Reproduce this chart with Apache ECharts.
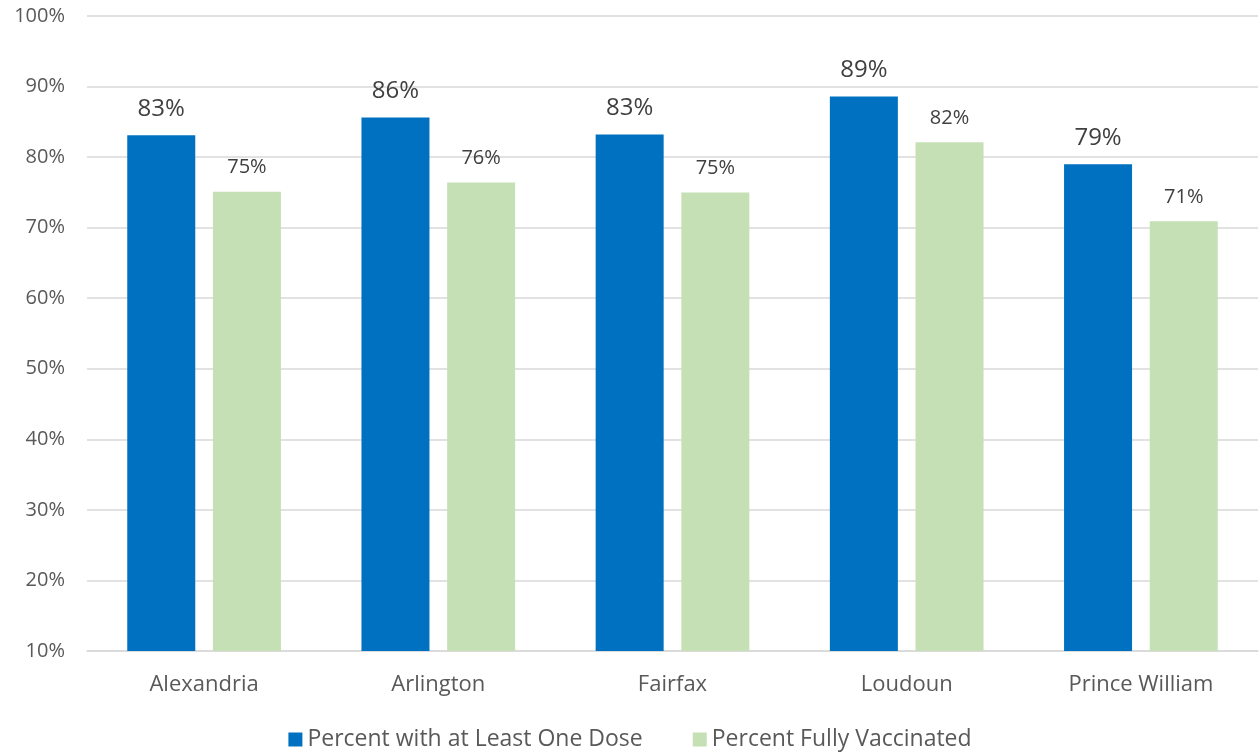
<!DOCTYPE html>
<html>
<head>
<meta charset="utf-8">
<script src="https://cdn.jsdelivr.net/npm/echarts@6/dist/echarts.min.js"></script>
<style>html,body{margin:0;padding:0;background:#fff}#c{width:1260px;height:756px}</style>
</head>
<body>
<div id="c"></div>
<script>
const categories = ['Alexandria', 'Arlington', 'Fairfax', 'Loudoun', 'Prince William'];
const oneDose = [83.1, 85.6, 83.2, 88.6, 79.0];
const fullyVaccinated = [75.1, 76.4, 75.0, 82.1, 70.9];
const seriesNames = ['Percent with at Least One Dose', 'Percent Fully Vaccinated'];

const font = '"Open Sans", "Liberation Sans", sans-serif';
const chart = echarts.init(document.getElementById('c'));
chart.setOption({
  animation: false,
  textStyle: { fontFamily: font },
  grid: { left: 87, right: 2, top: 16, bottom: 105 },
  legend: {
    bottom: 0,
    left: 'center',
    itemWidth: 14,
    itemHeight: 14,
    itemGap: 50,
    icon: 'rect',
    textStyle: { fontSize: 23, color: '#595959', fontFamily: font },
    data: seriesNames
  },
  xAxis: {
    type: 'category',
    data: categories,
    axisLine: { lineStyle: { color: '#d9d9d9', width: 1.5 } },
    axisTick: { show: false },
    axisLabel: { fontSize: 22, color: '#595959', margin: 23, fontFamily: font }
  },
  yAxis: {
    type: 'value',
    min: 10,
    max: 100,
    interval: 10,
    axisLine: { show: false },
    axisTick: { show: false },
    splitLine: { lineStyle: { color: '#d9d9d9', width: 1.5 } },
    axisLabel: { formatter: '{value}%', fontSize: 20, color: '#595959', margin: 22, fontFamily: font }
  },
  series: [
    {
      name: seriesNames[0],
      type: 'bar',
      data: oneDose,
      barWidth: 68,
      barGap: '26%',
      itemStyle: { color: '#0070C0' },
      label: {
        show: true, position: 'top', distance: 14,
        fontSize: 24, color: '#404040', fontFamily: font,
        formatter: p => Math.round(p.value) + '%'
      }
    },
    {
      name: seriesNames[1],
      type: 'bar',
      data: fullyVaccinated,
      barWidth: 68,
      barGap: '26%',
      itemStyle: { color: '#C5E0B4' },
      label: {
        show: true, position: 'top', distance: 14,
        fontSize: 20, color: '#404040', fontFamily: font,
        formatter: p => Math.round(p.value) + '%'
      }
    }
  ]
});
</script>
</body>
</html>
